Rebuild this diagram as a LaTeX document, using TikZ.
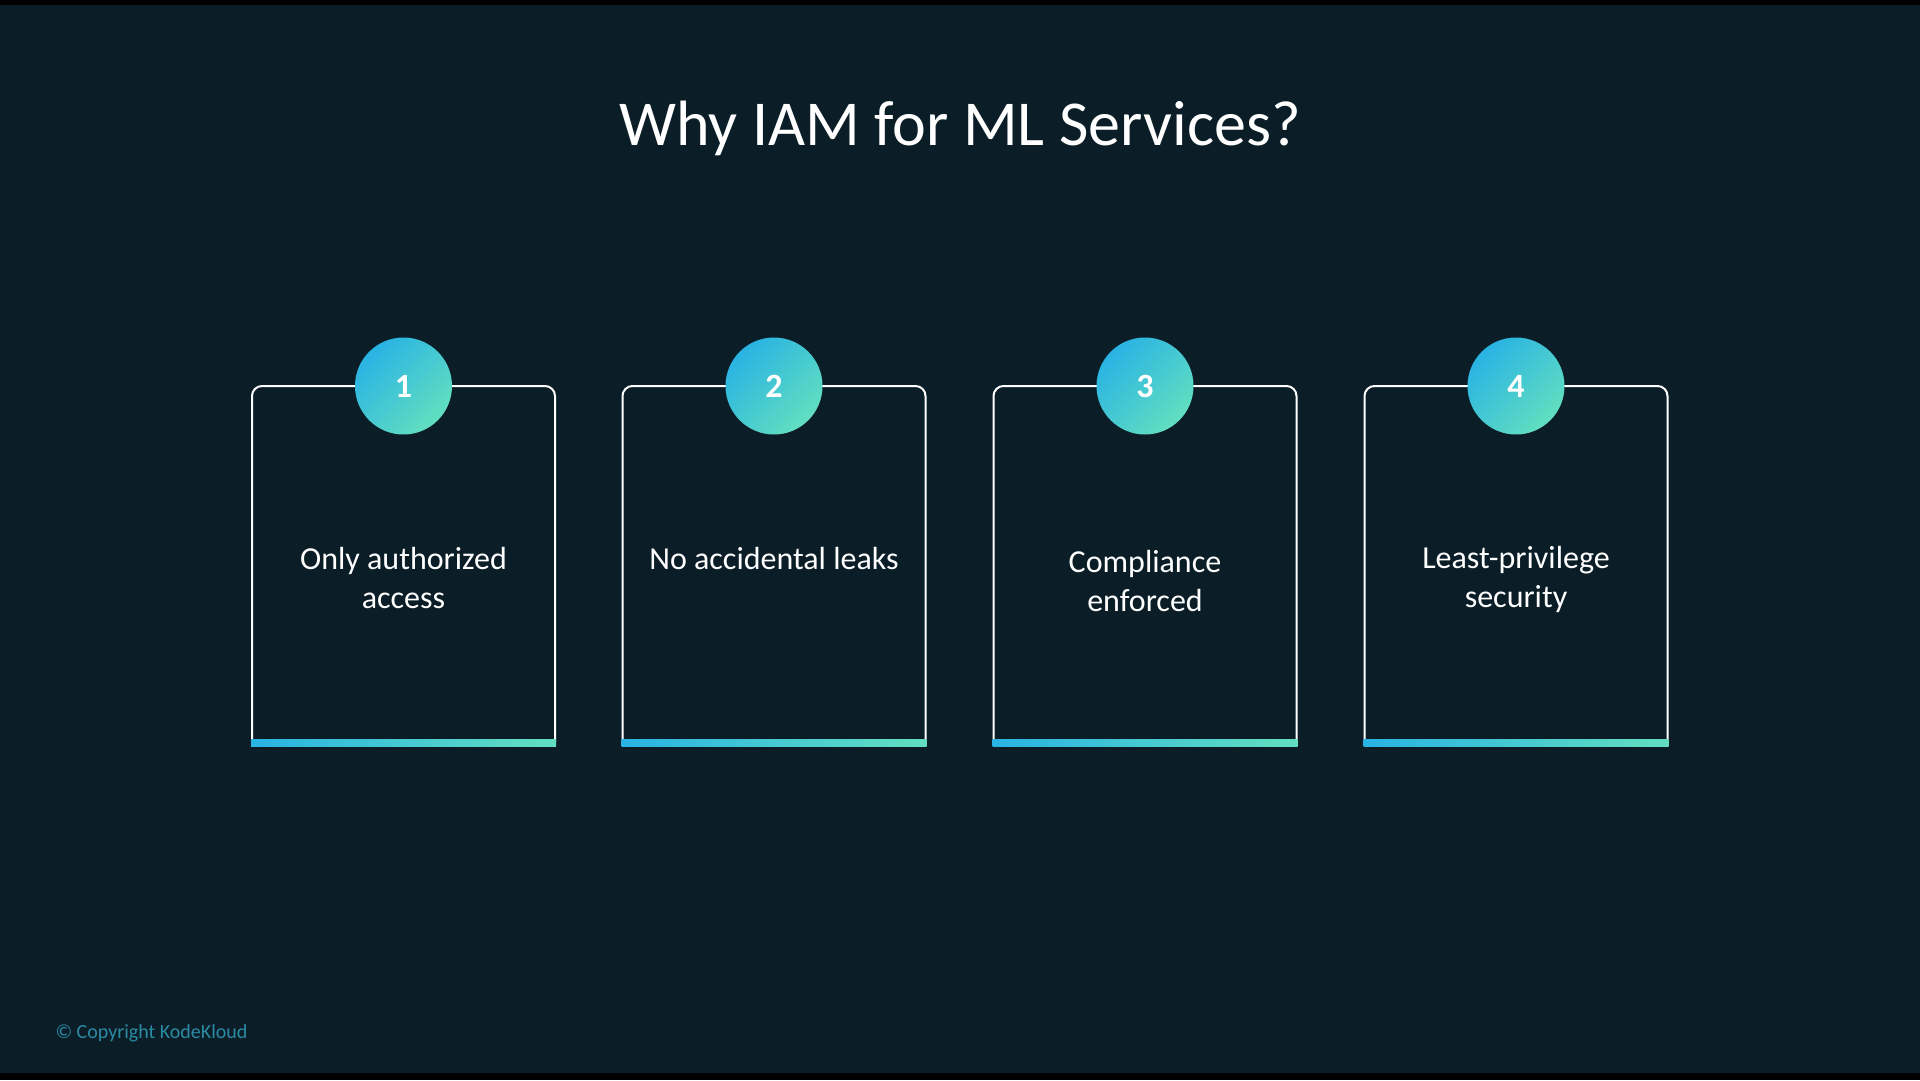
\documentclass[tikz,border=0pt]{standalone}
\usepackage{fontspec}
\setmainfont{Carlito}
\definecolor{bg}{HTML}{0B1E27}
\definecolor{cA}{HTML}{29B3E3}
\definecolor{cB}{HTML}{62DFC0}
\definecolor{copyc}{HTML}{2B8BA6}
\tikzset{
  cardline/.style={draw=white, line width=2pt, rounded corners=10pt},
  numcirc/.style={circle, minimum size=97pt, inner sep=0pt, top color=cA, bottom color=cB, shading angle=45, text=white, font=\bfseries\fontsize{34}{40}\selectfont},
  cardtext/.style={text=white, align=center, font=\fontsize{32}{39}\selectfont},
  barshade/.style={left color=cA, right color=cB}
}
\begin{document}
\begin{tikzpicture}[x=1pt,y=-1pt]
\fill[black] (0,0) rectangle (1920,1080);
\fill[bg] (0,5) rectangle (1920,1073);
\useasboundingbox (0,0) rectangle (1920,1080);
\node[anchor=base, text=white, font=\fontsize{64}{77}\selectfont] (title) at (960,145) {Why IAM for ML Services?};
\foreach \i/\cx/\ty/\txt in {1/403.5/578/{Only authorized\\access}, 2/774/558/{No accidental leaks}, 3/1145/581/{Compliance\\enforced}, 4/1516/579/{Least-privilege\\security}}{
  \draw[cardline] (\cx-151.5,742) -- (\cx-151.5,386) -- (\cx+151.5,386) -- (\cx+151.5,742);
  \shade[barshade] (\cx-152.5,739) rectangle (\cx+152.5,746);
  \node[numcirc] (n\i) at (\cx,386) {\i};
  \node[cardtext] (t\i) at (\cx,\ty) {\txt};
}
\node[anchor=base west, text=copyc, font=\fontsize{20}{24}\selectfont] (copy) at (52,1038) {© Copyright KodeKloud};
\end{tikzpicture}
\end{document}
